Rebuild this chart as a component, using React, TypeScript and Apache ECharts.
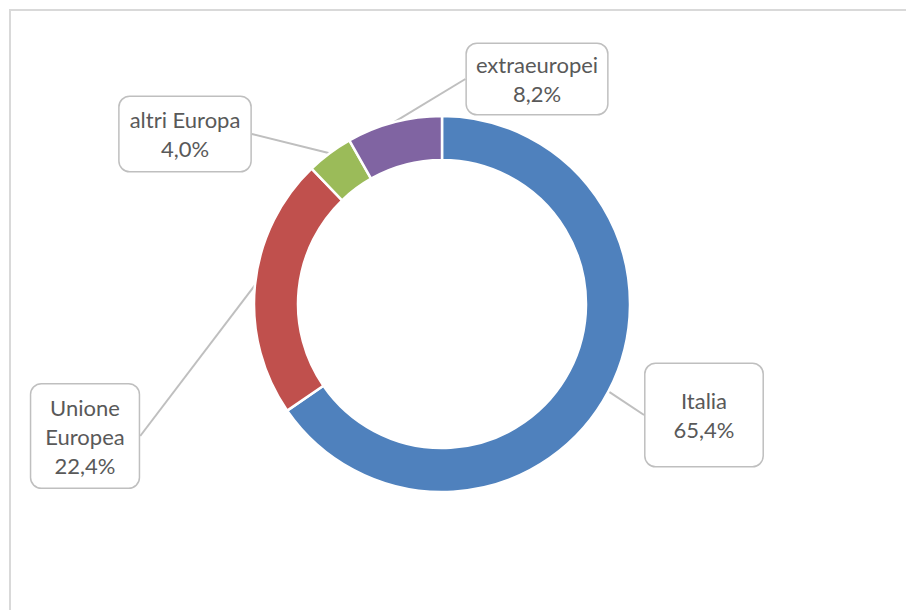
import React, { useEffect, useRef } from "react";
import * as echarts from "echarts";

const categories = ["Italia", "Unione Europea", "altri Europa", "extraeuropei"];
const values = [65.4, 22.4, 4.0, 8.2];
const labelTexts = ["Italia", "Unione\nEuropea", "altri Europa", "extraeuropei"];
const colors = ["#4F81BD", "#C0504D", "#9BBB59", "#8064A2"];

const labelCenters = [
  [704, 415],
  [85, 436],
  [185, 134],
  [537, 79],
];
const labelPaddings = [
  [22, 28],
  [8, 14],
  [8, 10],
  [6, 9],
];

const fmt = (v: number) => v.toFixed(1).replace(".", ",") + "%";

export default function App() {
  const ref = useRef<HTMLDivElement>(null);
  useEffect(() => {
    if (!ref.current) return;
    const chart = echarts.init(ref.current, undefined, { renderer: "svg" });
    const data = categories.map((name, i) => ({
      name,
      value: values[i],
      itemStyle: { color: colors[i] },
      label: { padding: labelPaddings[i] },
    }));
    chart.setOption({
      animation: false,
      backgroundColor: "#ffffff",
      graphic: [
        {
          type: "rect",
          z: -10,
          shape: { x: 10, y: 10, width: 1000, height: 1000 },
          style: { fill: "none", stroke: "#d9d9d9", lineWidth: 2 },
        },
      ],
      series: [
        {
          type: "pie",
          center: [442, 304],
          radius: [144, 188],
          startAngle: 90,
          clockwise: true,
          avoidLabelOverlap: false,
          itemStyle: { borderColor: "#ffffff", borderWidth: 2.5 },
          label: {
            show: true,
            position: "outside",
            formatter: (p: any) => labelTexts[p.dataIndex] + "\n" + fmt(p.value),
            fontFamily: "Lato, sans-serif",
            fontSize: 22,
            lineHeight: 29,
            color: "#595959",
            backgroundColor: "#ffffff",
            borderColor: "#bfbfbf",
            borderWidth: 1.5,
            borderRadius: 10,
            align: "center",
          },
          labelLine: {
            show: true,
            length: 20,
            length2: 0,
            lineStyle: { color: "#bfbfbf", width: 2 },
          },
          labelLayout: (p: any) => ({
            x: labelCenters[p.dataIndex][0],
            y: labelCenters[p.dataIndex][1],
            align: "center",
            verticalAlign: "middle",
          }),
          data,
        },
      ],
    });
    return () => chart.dispose();
  }, []);
  return (
    <div
      ref={ref}
      style={{ position: "absolute", left: 0, top: 0, width: 906, height: 610, overflow: "hidden" }}
    />
  );
}
